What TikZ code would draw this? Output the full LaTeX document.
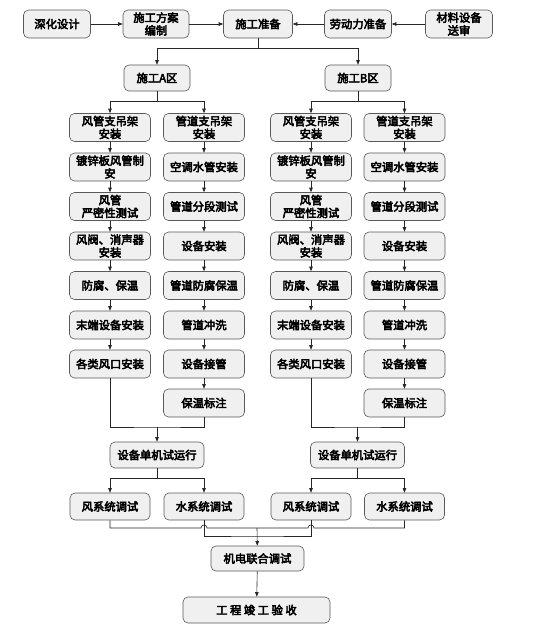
\documentclass[tikz,border=0pt]{standalone}
\usepackage{fontspec}
\newfontfamily\cjk{Noto Sans CJK SC}[FakeBold=4]
\usetikzlibrary{calc, arrows.meta}

\begin{document}
\begin{tikzpicture}[x=1pt, y=-1pt,
    caja/.style={draw=black!65, fill=black!6, line width=0.6pt, rounded corners=5pt,
        minimum width=81pt, minimum height=28pt, inner sep=1pt, align=center,
        font=\cjk\fontsize{11.3}{12.8}\selectfont},
    linea/.style={line width=0.6pt, black!85},
    flecha/.style={linea, -{Triangle[length=4.5pt, width=3.5pt]}}]
    % Establecer los limites del grafico
    \useasboundingbox (0,0) rectangle (533,633);

    % Fila superior
    \node[caja, minimum width=67pt] (profundo) at (57,24) {深化设计};
    \node[caja, minimum width=66pt] (plan) at (156,24) {施工方案\\编制};
    \node[caja, minimum width=69pt] (prep) at (258,24) {施工准备};
    \node[caja, minimum width=67pt] (mano) at (358,24) {劳动力准备};
    \node[caja, minimum width=67pt] (material) at (459,24) {材料设备\\送审};
    \draw[flecha] (profundo) -- (plan);
    \draw[flecha] (plan) -- (prep);
    \draw[flecha] (material) -- (mano);
    \draw[flecha] (mano) -- (prep);

    % Zonas A y B
    \node[caja, minimum width=66pt, minimum height=26pt] (zonaA) at (157,78) {施工A区};
    \node[caja, minimum width=66pt, minimum height=26pt] (zonaB) at (358,78) {施工B区};
    \coordinate (jP) at (258,48);
    \draw[linea] (prep) -- (jP);
    \draw[flecha] (jP) -| (zonaA.north);
    \draw[flecha] (jP) -| (zonaB.north);

    % Zona A: columna de aire
    \node[caja] (aireA1) at (110,127.5) {风管支吊架\\安装};
    \node[caja] (aireA2) at (110,167) {镀锌板风管制\\安};
    \node[caja] (aireA3) at (110,206.5) {风管\\严密性测试};
    \node[caja] (aireA4) at (110,246) {风阀、消声器\\安装};
    \node[caja] (aireA5) at (110,285.5) {防腐、保温};
    \node[caja] (aireA6) at (110,325) {末端设备安装};
    \node[caja] (aireA7) at (110,364) {各类风口安装};
    % Zona A: columna de agua
    \node[caja] (aguaA1) at (204,127.5) {管道支吊架\\安装};
    \node[caja] (aguaA2) at (204,167) {空调水管安装};
    \node[caja] (aguaA3) at (204,206.5) {管道分段测试};
    \node[caja] (aguaA4) at (204,246) {设备安装};
    \node[caja] (aguaA5) at (204,285.5) {管道防腐保温};
    \node[caja] (aguaA6) at (204,325) {管道冲洗};
    \node[caja] (aguaA7) at (204,364) {设备接管};
    \node[caja] (aguaA8) at (204,403) {保温标注};

    % Zona B: columna de aire
    \node[caja] (aireB1) at (311,127.5) {风管支吊架\\安装};
    \node[caja] (aireB2) at (311,167) {镀锌板风管制\\安};
    \node[caja] (aireB3) at (311,206.5) {风管\\严密性测试};
    \node[caja] (aireB4) at (311,246) {风阀、消声器\\安装};
    \node[caja] (aireB5) at (311,285.5) {防腐、保温};
    \node[caja] (aireB6) at (311,325) {末端设备安装};
    \node[caja] (aireB7) at (311,364) {各类风口安装};
    % Zona B: columna de agua
    \node[caja] (aguaB1) at (404.5,127.5) {管道支吊架\\安装};
    \node[caja] (aguaB2) at (404.5,167) {空调水管安装};
    \node[caja] (aguaB3) at (404.5,206.5) {管道分段测试};
    \node[caja] (aguaB4) at (404.5,246) {设备安装};
    \node[caja] (aguaB5) at (404.5,285.5) {管道防腐保温};
    \node[caja] (aguaB6) at (404.5,325) {管道冲洗};
    \node[caja] (aguaB7) at (404.5,364) {设备接管};
    \node[caja] (aguaB8) at (404.5,403) {保温标注};

    % Ramas de cada zona
    \coordinate (jA) at (157,101);
    \coordinate (jB) at (358,101);
    \draw[linea] (zonaA) -- (jA);
    \draw[flecha] (jA) -| (aireA1.north);
    \draw[flecha] (jA) -| (aguaA1.north);
    \draw[linea] (zonaB) -- (jB);
    \draw[flecha] (jB) -| (aireB1.north);
    \draw[flecha] (jB) -| (aguaB1.north);

    % Flechas verticales
    \draw[flecha] (aireA1) edge (aireA2) (aireA2) edge (aireA3) (aireA3) edge (aireA4)
        (aireA4) edge (aireA5) (aireA5) edge (aireA6) (aireA6) edge (aireA7);
    \draw[flecha] (aguaA1) edge (aguaA2) (aguaA2) edge (aguaA3) (aguaA3) edge (aguaA4)
        (aguaA4) edge (aguaA5) (aguaA5) edge (aguaA6) (aguaA6) edge (aguaA7) (aguaA7) edge (aguaA8);
    \draw[flecha] (aireB1) edge (aireB2) (aireB2) edge (aireB3) (aireB3) edge (aireB4)
        (aireB4) edge (aireB5) (aireB5) edge (aireB6) (aireB6) edge (aireB7);
    \draw[flecha] (aguaB1) edge (aguaB2) (aguaB2) edge (aguaB3) (aguaB3) edge (aguaB4)
        (aguaB4) edge (aguaB5) (aguaB5) edge (aguaB6) (aguaB6) edge (aguaB7) (aguaB7) edge (aguaB8);

    % Prueba de equipos
    \node[caja, minimum width=94pt, minimum height=26pt] (unidadA) at (157,455) {设备单机试运行};
    \node[caja, minimum width=94pt, minimum height=26pt] (unidadB) at (357.5,455) {设备单机试运行};
    \coordinate (mA) at (157,427);
    \coordinate (mB) at (357.5,427);
    \draw[linea] (aireA7.south) |- (mA) -| (aguaA8.south);
    \draw[flecha] (mA) -- (unidadA);
    \draw[linea] (aireB7.south) |- (mB) -| (aguaB8.south);
    \draw[flecha] (mB) -- (unidadB);

    % Pruebas de sistemas
    \node[caja, minimum width=80pt, minimum height=27pt] (vientoA) at (110,506.5) {风系统调试};
    \node[caja, minimum width=80pt, minimum height=27pt] (hidroA) at (204,506.5) {水系统调试};
    \node[caja, minimum width=80pt, minimum height=27pt] (vientoB) at (311,506.5) {风系统调试};
    \node[caja, minimum width=80pt, minimum height=27pt] (hidroB) at (404.5,506.5) {水系统调试};
    \coordinate (kA) at (157,478);
    \coordinate (kB) at (357.5,478);
    \draw[linea] (unidadA) -- (kA);
    \draw[flecha] (kA) -| (vientoA.north);
    \draw[flecha] (kA) -| (hidroA.north);
    \draw[linea] (unidadB) -- (kB);
    \draw[flecha] (kB) -| (vientoB.north);
    \draw[flecha] (kB) -| (hidroB.north);

    % Union de las pruebas (con saltos en los cruces)
    \coordinate (sup) at (257,528);
    \coordinate (inf) at (257,536);
    \draw[linea] (vientoA.south) |- ($(hidroA.south |- sup)+(-3,0)$)
        .. controls +(0,-4) and +(0,-4) .. ($(hidroA.south |- sup)+(3,0)$)
        -- ($(vientoB.south |- sup)+(-3,0)$)
        .. controls +(0,-4) and +(0,-4) .. ($(vientoB.south |- sup)+(3,0)$)
        -| (hidroB.south);
    \draw[linea] (hidroA.south) |- (inf) -| (vientoB.south);

    % Pruebas finales
    \node[caja, minimum width=93pt, minimum height=25pt] (conjunto) at (257.5,558.5) {机电联合调试};
    \node[caja, minimum width=147pt, minimum height=26pt] (fin) at (256.5,610) {工\ 程\ 竣\ 工\ 验\ 收};
    \draw[flecha] (sup) -- (conjunto);
    \draw[flecha] (conjunto) -- (fin);

\end{tikzpicture}
\end{document}
